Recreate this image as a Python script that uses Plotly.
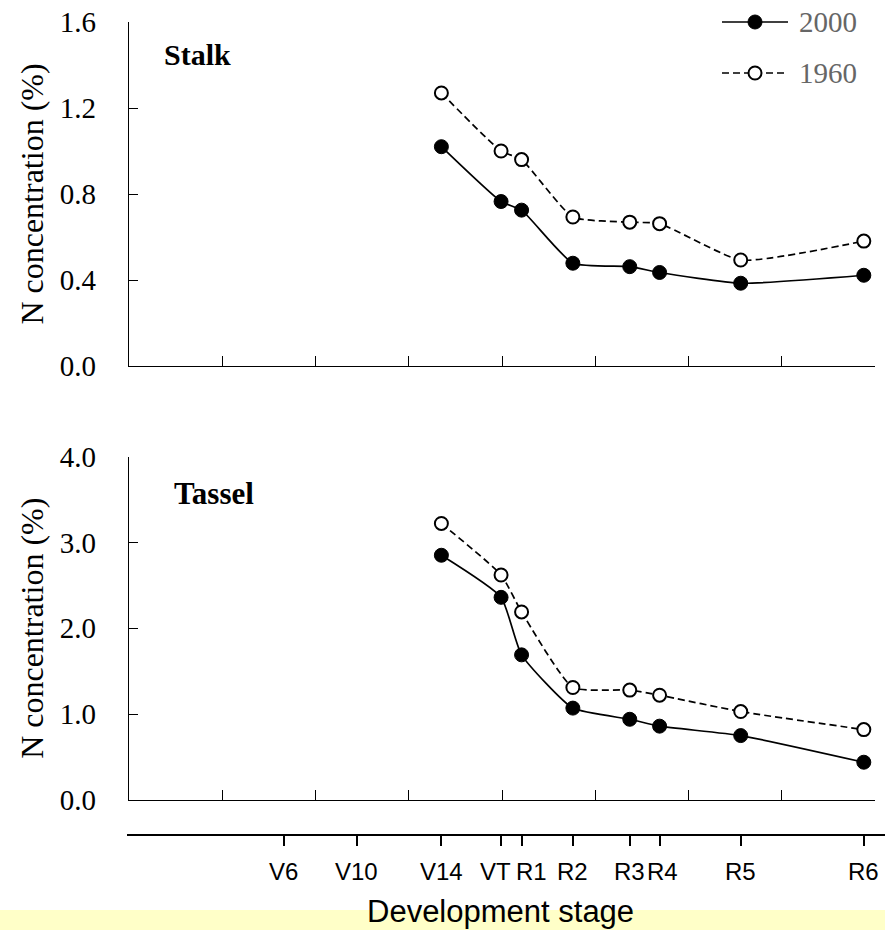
import plotly.graph_objects as go

# ---------------- data ----------------
stage_labels = ["V6", "V10", "V14", "VT", "R1", "R2", "R3", "R4", "R5", "R6"]
stage_pos = [1.66, 2.44, 3.35, 3.99, 4.21, 4.76, 5.37, 5.69, 6.56, 7.88]

sample_stages = ["V14", "VT", "R1", "R2", "R3", "R4", "R5", "R6"]

stalk_2000 = [1.02, 0.765, 0.725, 0.478, 0.462, 0.435, 0.385, 0.422]
stalk_1960 = [1.27, 1.00, 0.96, 0.693, 0.669, 0.662, 0.493, 0.581]

tassel_2000 = [2.85, 2.36, 1.69, 1.07, 0.94, 0.86, 0.75, 0.44]
tassel_1960 = [3.22, 2.62, 2.19, 1.31, 1.28, 1.22, 1.03, 0.82]

series_names = ["2000", "1960"]
stalk_ticks = [0.0, 0.4, 0.8, 1.2, 1.6]
tassel_ticks = [0.0, 1.0, 2.0, 3.0, 4.0]
panel_xticks = [1, 2, 3, 4, 5, 6, 7]

# ---------------- geometry / style (pixels) ----------------
W, H = 885, 930
ML, MR, MT, MB = 127, 0, 22, 95
PW = W - ML - MR
PH = H - MT - MB
ax_left, ax_right = 129, 875
top_y0, top_y1 = 366, 22
bot_y0, bot_y1 = 800, 456.5
# small horizontal nudges (px) so crowded stage labels sit side by side
label_nudge = {"VT": -6, "R1": 10, "R3": 0, "R4": 3}


def fx(px):
    return (px - ML) / PW


def fy(py):
    return (H - MB - py) / PH


XR = [0, 8]
unit = (ax_right - ax_left) / (XR[1] - XR[0])
x3_range = [XR[0] + (ML - ax_left) / unit, XR[0] + (W - MR - ax_left) / unit]

pos = dict(zip(stage_labels, stage_pos))
xs = [pos[s] for s in sample_stages]

serif = "Liberation Serif, Times New Roman, serif"
sans = "Liberation Sans, Arial, sans-serif"

fig = go.Figure()

line_2000 = dict(color="black", width=1.7, shape="spline", smoothing=0.5)
line_1960 = dict(color="black", width=1.7, dash="7px,4px", shape="spline", smoothing=0.5)
mk_2000 = dict(symbol="circle", size=14, color="black", line=dict(color="black", width=1))
mk_1960 = dict(symbol="circle", size=13, color="white", line=dict(color="black", width=2))

fig.add_trace(go.Scatter(x=xs, y=stalk_2000, mode="lines+markers", name=series_names[0],
                         line=line_2000, marker=mk_2000, xaxis="x", yaxis="y"))
fig.add_trace(go.Scatter(x=xs, y=stalk_1960, mode="lines+markers", name=series_names[1],
                         line=line_1960, marker=mk_1960, xaxis="x", yaxis="y"))
fig.add_trace(go.Scatter(x=xs, y=tassel_2000, mode="lines+markers", name=series_names[0],
                         line=line_2000, marker=mk_2000, xaxis="x2", yaxis="y2"))
fig.add_trace(go.Scatter(x=xs, y=tassel_1960, mode="lines+markers", name=series_names[1],
                         line=line_1960, marker=mk_1960, xaxis="x2", yaxis="y2"))
# carrier trace for the development-stage axis
fig.add_trace(go.Scatter(x=stage_pos, y=[0] * len(stage_pos), mode="markers",
                         marker=dict(opacity=0), xaxis="x3", yaxis="y3",
                         hoverinfo="skip"))

panel_x = dict(range=XR, domain=[fx(ax_left), fx(ax_right)], showgrid=False,
               zeroline=False, showline=True, linecolor="black", linewidth=1.3,
               ticks="inside", ticklen=10, tickwidth=1.3, tickcolor="black",
               tickvals=panel_xticks, showticklabels=False)

panel_y = dict(showgrid=False, zeroline=False, showline=True, linecolor="black",
               linewidth=1.3, ticks="inside", ticklen=9, tickwidth=1.3,
               tickcolor="black", tickformat=".1f", ticklabelstandoff=26,
               tickfont=dict(family=serif, size=29, color="black"),
               title=dict(text="N concentration (%)",
                          font=dict(family=serif, size=32, color="black"),
                          standoff=6))

# ----- legend drawn as shapes + text (top right) -----
leg_rows = [22, 73]
leg_x0, leg_x1, leg_mx, leg_tx = 722, 788, 755, 797
shapes = [dict(type="rect", xref="paper", yref="paper",
               x0=fx(0), x1=fx(W), y0=fy(910), y1=fy(930),
               fillcolor="#FFFFC8", line=dict(width=0), layer="below")]
annotations = []
for i, (name, ry) in enumerate(zip(series_names, leg_rows)):
    shapes.append(dict(type="line", xref="paper", yref="paper",
                       x0=fx(leg_x0), x1=fx(leg_x1), y0=fy(ry), y1=fy(ry),
                       line=dict(color="black", width=1.7,
                                 dash="solid" if i == 0 else "7px,4px")))
    r = 7 if i == 0 else 6.5
    shapes.append(dict(type="circle", xref="paper", yref="paper",
                       x0=fx(leg_mx - r), x1=fx(leg_mx + r),
                       y0=fy(ry + r), y1=fy(ry - r),
                       fillcolor="black" if i == 0 else "white",
                       line=dict(color="black", width=1 if i == 0 else 2)))
    annotations.append(dict(text=name, xref="paper", yref="paper",
                            x=fx(leg_tx), y=fy(ry), xanchor="left", yanchor="middle",
                            showarrow=False,
                            font=dict(family=serif, size=29, color="#666666")))

# stage tick labels
for lab, xv in zip(stage_labels, stage_pos):
    annotations.append(dict(text=lab, xref="x3", yref="paper", x=xv, y=fy(871),
                            xanchor="center", yanchor="middle", showarrow=False,
                            xshift=label_nudge.get(lab, 0),
                            font=dict(family=sans, size=24, color="black")))

annotations += [
    dict(text="<b>Stalk</b>", xref="x domain", yref="y domain",
         x=(162 - ax_left) / (ax_right - ax_left),
         y=(top_y0 - 55) / (top_y0 - top_y1),
         xanchor="left", yanchor="middle", showarrow=False,
         font=dict(family=serif, size=30, color="black")),
    dict(text="<b>Tassel</b>", xref="x2 domain", yref="y2 domain",
         x=(172 - ax_left) / (ax_right - ax_left),
         y=(bot_y0 - 493) / (bot_y0 - bot_y1),
         xanchor="left", yanchor="middle", showarrow=False,
         font=dict(family=serif, size=31, color="black")),
    dict(text="Development stage", xref="paper", yref="paper",
         x=fx(500), y=fy(911), xanchor="center", yanchor="middle",
         showarrow=False, font=dict(family=sans, size=31, color="black")),
]

fig.update_layout(
    width=W, height=H,
    margin=dict(l=ML, r=MR, t=MT, b=MB),
    paper_bgcolor="white", plot_bgcolor="rgba(0,0,0,0)",
    xaxis=dict(**panel_x, anchor="y"),
    yaxis=dict(**panel_y, range=[0, 1.6], tickvals=stalk_ticks,
               domain=[fy(top_y0), fy(top_y1)], anchor="x"),
    xaxis2=dict(**panel_x, anchor="y2"),
    yaxis2=dict(**panel_y, range=[0, 4.0], tickvals=tassel_ticks,
                domain=[fy(bot_y0), fy(bot_y1)], anchor="x2"),
    xaxis3=dict(range=x3_range, domain=[0, 1], anchor="free", position=0,
                showgrid=False, zeroline=False, showline=True, linecolor="black",
                linewidth=2.2, ticks="outside", ticklen=10, tickwidth=2,
                tickcolor="black", tickvals=stage_pos, showticklabels=False),
    yaxis3=dict(domain=[0, 1], range=[0, 1], visible=False, anchor="x3"),
    showlegend=False,
    shapes=shapes,
    annotations=annotations,
)

fig.write_html("out.html")
